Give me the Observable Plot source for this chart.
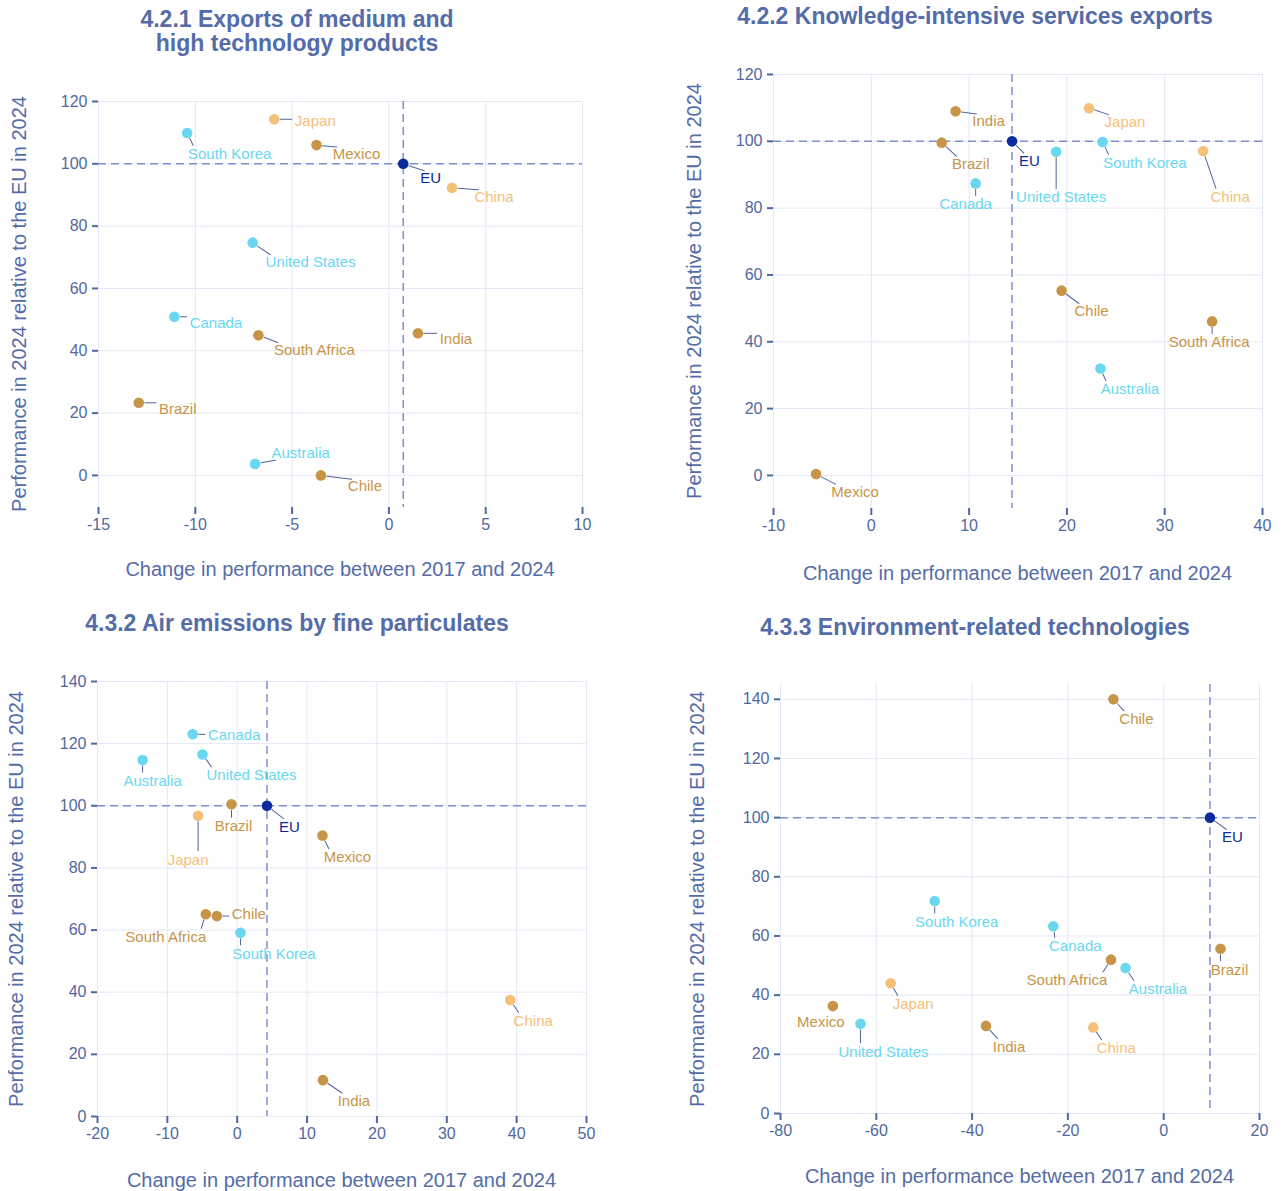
<!DOCTYPE html>
<html>
<head>
<meta charset="utf-8">
<script src="https://cdn.jsdelivr.net/npm/d3@7"></script>
<script src="https://cdn.jsdelivr.net/npm/@observablehq/plot@0.6"></script>
<style>
  html, body { margin: 0; padding: 0; background: #ffffff; }
  #root { position: relative; width: 1282px; height: 1191px; overflow: hidden; font-family: "Liberation Sans", Arial, sans-serif; }
  .ttl { position: absolute; font-weight: bold; font-size: 23px; color: #546ca8; white-space: nowrap; text-align: center; transform: translate(-50%, -50%); line-height: 24px; }
  .xt { position: absolute; font-size: 20px; color: #546ca8; white-space: nowrap; transform: translate(-50%, -50%); }
  .yt { position: absolute; font-size: 20px; color: #546ca8; white-space: nowrap; transform: translate(-50%, -50%) rotate(-90deg); }
  .pl { position: absolute; }
  .pl svg { overflow: visible; }
</style>
</head>
<body>
<div id="root"></div>
<script>
// ---------------- data ----------------
const countries = ["EU", "Australia", "Brazil", "Canada", "Chile", "China", "India", "Japan", "Mexico", "South Africa", "South Korea", "United States"];
const groups    = ["EU", "cyan", "gold", "cyan", "gold", "orange", "gold", "orange", "gold", "gold", "cyan", "cyan"];

// 4.2.1 Exports of medium and high technology products
const x421 = [0.74, -6.91, -12.92, -11.08, -3.51, 3.26, 1.50, -5.92, -3.74, -6.74, -10.42, -7.04];
const y421 = [100, 3.7, 23.3, 50.9, 0.0, 92.3, 45.6, 114.3, 106.0, 45.0, 109.9, 74.7];
// 4.2.2 Knowledge-intensive services exports
const x422 = [14.39, 23.43, 7.2, 10.67, 19.46, 33.93, 8.62, 22.26, -5.65, 34.85, 23.64, 18.9];
const y422 = [100, 32.0, 99.6, 87.4, 55.3, 97.1, 109.0, 109.9, 0.4, 46.1, 99.8, 96.9];
// 4.3.2 Air emissions by fine particulates
const x432 = [4.26, -13.55, -0.82, -6.37, -2.92, 39.08, 12.27, -5.6, 12.2, -4.5, 0.47, -4.96];
const y432 = [100, 114.7, 100.5, 123.0, 64.5, 37.5, 11.7, 96.8, 90.4, 65.1, 59.1, 116.5];
// 4.3.3 Environment-related technologies
const x433 = [9.66, -7.97, 11.86, -23.05, -10.5, -14.7, -37.1, -57.0, -69.07, -11.0, -47.8, -63.3];
const y433 = [100, 49.2, 55.7, 63.3, 140, 29.1, 29.6, 44.0, 36.3, 52.0, 71.8, 30.3];

// tick values
const xTicks421 = [-15, -10, -5, 0, 5, 10];
const xTicks422 = [-10, 0, 10, 20, 30, 40];
const xTicks432 = [-20, -10, 0, 10, 20, 30, 40, 50];
const xTicks433 = [-80, -60, -40, -20, 0, 20];
const yTicks120 = [0, 20, 40, 60, 80, 100, 120];
const yTicks140 = [0, 20, 40, 60, 80, 100, 120, 140];

// texts
const titles = [
  ["4.2.1 Exports of medium and", "high technology products"],
  ["4.2.2 Knowledge-intensive services exports"],
  ["4.3.2 Air emissions by fine particulates"],
  ["4.3.3 Environment-related technologies"]
];
const xTitle = "Change in performance between 2017 and 2024";
const yTitle = "Performance in 2024 relative to the EU in 2024";

// ---------------- layout / style ----------------
// label centre offsets (px) from each point, same order as countries
const off421 = [[27.5,14.5],[45.5,-11],[39,6],[41.5,6],[44,11],[42,9],[38,6],[41,2],[40,9],[56,15],[42.5,21],[58,20]];
const off422 = [[17.5,20],[29.5,21],[29,22],[-10,21],[30,21],[27,46],[33,10],[36,14],[39,18],[-3,21],[42.5,21],[5,46]];
const off432 = [[22.5,21],[10,21],[2,22],[41.5,1],[32,-2],[23,21],[31,21],[-10,44],[25,22],[-40,23],[33.5,21],[49,21]];
const off433 = [[22.5,20],[32.5,21],[9,21],[22,20],[23,20],[23,21],[23,21],[22.5,21],[-12,16],[-44,21],[22,21],[23,28]];

const colors = {EU: "#0b2a9c", cyan: "#6ad7f1", orange: "#f5c078", gold: "#c79548"};
const TEXT = "#546ca8", TICK = "#5068a0", GRID = "#e4e7f5", DASH = "#7f90cf", LEADER = "#50649a";
const FONT = "'Liberation Sans', Arial, sans-serif";

const panels = [
  {xs: x421, ys: y421, offs: off421, title: titles[0], titleX: 297, titleY: 31,
   svg: [0, 0, 641, 595], frame: [98, 101, 582, 507], xDomain: [-15, 10], yDomain: [-10.3, 120],
   xTicks: xTicks421, yTicks: yTicks120, xTitleY: 569, yTitleX: 19},
  {xs: x422, ys: y422, offs: off422, title: titles[1], titleX: 975, titleY: 16,
   svg: [641, 0, 641, 595], frame: [773, 74, 1262, 508], xDomain: [-10, 40], yDomain: [-9.9, 120],
   xTicks: xTicks422, yTicks: yTicks120, xTitleY: 573, yTitleX: 694},
  {xs: x432, ys: y432, offs: off432, title: titles[2], titleX: 297, titleY: 623,
   svg: [0, 595, 641, 596], frame: [97, 681, 586, 1116], xDomain: [-20, 50], yDomain: [0, 140],
   xTicks: xTicks432, yTicks: yTicks140, xTitleY: 1180, yTitleX: 16},
  {xs: x433, ys: y433, offs: off433, title: titles[3], titleX: 975, titleY: 627,
   svg: [641, 595, 641, 596], frame: [780, 684, 1259, 1113], xDomain: [-80, 20], yDomain: [0, 145],
   xTicks: xTicks433, yTicks: yTicks140, xTitleY: 1176, yTitleX: 697}
];

const root = document.getElementById("root");
const ctx = document.createElement("canvas").getContext("2d");
ctx.font = "15px " + FONT;

function addDiv(cls, text, x, y) {
  const d = document.createElement("div");
  d.className = cls;
  d.innerHTML = text;
  d.style.left = x + "px";
  d.style.top = y + "px";
  root.appendChild(d);
}

const STANDOFF = 6;
const lineShape = {
  draw(context, l) { context.moveTo(0, -STANDOFF); context.lineTo(0, -l); }
};

for (const p of panels) {
  const [sx, sy, sw, sh] = p.svg;
  const [fl, ft, fr, fb] = p.frame;
  const rows = countries.map((c, i) => ({name: c, group: groups[i], x: p.xs[i], y: p.ys[i], off: p.offs[i]}));
  const euX = rows.find(r => r.name === "EU").x;

  const leaders = [], texts = [];
  for (const r of rows) {
    const [cx, cy] = r.off;
    const hw = ctx.measureText(r.name).width / 2 + 1, hh = 7;
    const inner = Math.min(7, hw - 2);
    // point of the (slightly inset) label box nearest to the dot
    const tx = Math.max(cx - hw + inner, Math.min(0, cx + hw - inner));
    const ty = Math.max(cy - hh, Math.min(0, cy + hh));
    // clip that direction against the real box edge
    let len = Math.hypot(tx, ty);
    const ux = tx / len, uy = ty / len;
    const tEdgeX = ux !== 0 ? Math.max((cx - hw) / ux, (cx + hw) / ux) : Infinity;
    const tEnterX = ux !== 0 ? Math.min((cx - hw) / ux, (cx + hw) / ux) : -Infinity;
    const tEnterY = uy !== 0 ? Math.min((cy - hh) / uy, (cy + hh) / uy) : -Infinity;
    const enter = Math.max(tEnterX, tEnterY);
    if (isFinite(enter) && enter > 0 && enter < len) len = enter;
    len -= 2;
    if (len > STANDOFF + 3) {
      const rot = Math.atan2(ux, -uy) * 180 / Math.PI;
      leaders.push(Plot.vector([r], {x: "x", y: "y", length: len, rotate: rot, anchor: "start",
        shape: lineShape, stroke: LEADER, strokeWidth: 1}));
    }
    texts.push(Plot.text([r], {x: "x", y: "y", text: "name", dx: cx, dy: cy,
      textAnchor: "middle", lineAnchor: "middle", fill: colors[r.group], fontSize: 15}));
  }

  const chart = Plot.plot({
    width: sw, height: sh,
    marginLeft: fl - sx, marginRight: sx + sw - fr, marginTop: ft - sy, marginBottom: sy + sh - fb,
    style: {fontFamily: FONT, background: "transparent", overflow: "visible"},
    x: {domain: p.xDomain, label: null},
    y: {domain: p.yDomain, label: null},
    marks: [
      Plot.gridX(p.xTicks, {stroke: GRID, strokeOpacity: 1, strokeWidth: 1}),
      Plot.gridY(p.yTicks, {stroke: GRID, strokeOpacity: 1, strokeWidth: 1}),
      Plot.axisX(p.xTicks, {tickSize: 7, tickPadding: 4, tickFormat: d => String(d), color: TICK, strokeWidth: 2, fontSize: 16, label: null}),
      Plot.axisY(p.yTicks, {tickSize: 6, tickPadding: 5, tickFormat: d => String(d), color: TICK, strokeWidth: 2, fontSize: 16, label: null}),
      Plot.ruleY([100], {stroke: DASH, strokeWidth: 1.5, strokeDasharray: "8,5"}),
      Plot.ruleX([euX], {stroke: DASH, strokeWidth: 1.5, strokeDasharray: "8,5"}),
      ...leaders,
      Plot.dot(rows, {x: "x", y: "y", r: 5.3, fill: d => colors[d.group], stroke: null}),
      ...texts
    ]
  });
  const wrap = document.createElement("div");
  wrap.className = "pl";
  wrap.style.left = sx + "px";
  wrap.style.top = sy + "px";
  wrap.appendChild(chart);
  root.appendChild(wrap);

  addDiv("ttl", p.title.join("<br>"), p.titleX, p.titleY);
  addDiv("xt", xTitle, (fl + fr) / 2, p.xTitleY);
  addDiv("yt", yTitle, p.yTitleX, (ft + fb) / 2);
}
</script>
</body>
</html>
